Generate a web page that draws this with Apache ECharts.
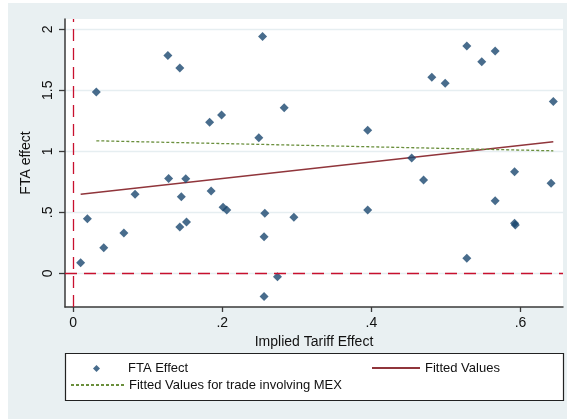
<!DOCTYPE html>
<html>
<head>
<meta charset="utf-8">
<script src="https://cdn.jsdelivr.net/npm/echarts@6/dist/echarts.min.js"></script>
<style>
  html, body { margin: 0; padding: 0; background: #fff; }
  #chart { width: 567px; height: 419px; }
</style>
</head>
<body>
<div id="chart"></div>
<script>
// scatter: implied tariff effect vs FTA effect
var tariffX = [0.010, 0.019, 0.031, 0.041, 0.068, 0.083, 0.127, 0.128, 0.143, 0.145,
  0.143, 0.152, 0.151, 0.183, 0.185, 0.199, 0.201, 0.206, 0.249, 0.254,
  0.257, 0.256, 0.256, 0.274, 0.283, 0.296, 0.395, 0.395, 0.454, 0.470,
  0.481, 0.499, 0.528, 0.528, 0.548, 0.566, 0.566, 0.592, 0.592, 0.593,
  0.641, 0.644];
var ftaY = [0.087, 0.448, 1.486, 0.210, 0.330, 0.648, 1.784, 0.778, 1.683, 0.628,
  0.380, 0.420, 0.775, 1.238, 0.675, 1.297, 0.541, 0.519, 1.111, 1.940,
  0.492, 0.300, -0.190, -0.028, 1.357, 0.459, 1.172, 0.519, 0.945, 0.765,
  1.606, 1.557, 1.863, 0.123, 1.734, 1.822, 0.595, 0.833, 0.410, 0.395,
  0.738, 1.407];
// fitted lines
var fitX = [0.010, 0.644];
var fitY = [0.648, 1.078];
var mexX = [0.031, 0.644];
var mexY = [1.086, 1.004];
var xTicks = [0, 0.2, 0.4, 0.6];
var yTicks = [0, 0.5, 1, 1.5, 2];

var font = 'Liberation Sans, Arial, sans-serif';
var txt = '#111';

function pairs(xs, ys) {
  var out = [];
  for (var i = 0; i < xs.length; ++i) out.push([xs[i], ys[i]]);
  return out;
}
function stripZero(v) {
  return String(v).replace(/^0\./, '.');
}

var myChart = echarts.init(document.getElementById('chart'));
var option = {
  animation: false,
  backgroundColor: '#e9f0f2',
  graphic: [
    { type: 'rect', shape: { x: 0, y: 0, width: 8, height: 419 }, style: { fill: '#fff' }, silent: true },
    { type: 'rect', shape: { x: 0, y: 0, width: 567, height: 3 }, style: { fill: '#fff' }, silent: true },
    { type: 'rect', z: 1, shape: { x: 65.5, y: 353.5, width: 498, height: 47 },
      style: { fill: '#fff', stroke: '#222', lineWidth: 1.2 }, silent: true }
  ],
  grid: {
    left: 65, top: 19, right: 4, bottom: 112,
    show: true, backgroundColor: '#fff', borderWidth: 0
  },
  legend: [
    { left: 93, top: 362, padding: 0, itemWidth: 7, itemHeight: 7, selectedMode: false,
      data: [{ name: 'FTA Effect', icon: 'diamond' }],
      textStyle: { fontSize: 13, color: txt, fontFamily: font, padding: [0, 0, 0, 23] } },
    { left: 371, top: 361.5, padding: 0, itemWidth: 48, itemHeight: 14, selectedMode: false,
      itemStyle: { opacity: 0 },
      data: ['Fitted Values'], textStyle: { fontSize: 13, color: txt, fontFamily: font } },
    { left: 70, top: 378.5, padding: 0, itemWidth: 53, itemHeight: 14, selectedMode: false,
      itemStyle: { opacity: 0 },
      data: ['Fitted Values for trade involving MEX'], textStyle: { fontSize: 13, color: txt, fontFamily: font } }
  ],
  xAxis: {
    type: 'value',
    min: -0.011, max: 0.657,
    name: 'Implied Tariff Effect',
    nameLocation: 'middle',
    nameGap: 22,
    nameTextStyle: { fontSize: 14, color: txt, fontFamily: font },
    axisLine: { onZero: false, lineStyle: { color: '#3a3a3a', width: 1.5 } },
    axisTick: { customValues: xTicks, length: 5, lineStyle: { color: '#3a3a3a', width: 1.3 } },
    axisLabel: { customValues: xTicks, formatter: stripZero, margin: 9,
      fontSize: 14, color: txt, fontFamily: font },
    splitLine: { show: false }
  },
  yAxis: {
    type: 'value',
    min: -0.276, max: 2.084,
    name: 'FTA effect',
    nameLocation: 'middle',
    nameGap: 28,
    nameRotate: 90,
    nameTextStyle: { fontSize: 14, color: txt, fontFamily: font },
    axisLine: { show: true, onZero: false, lineStyle: { color: '#3a3a3a', width: 1.5 } },
    axisTick: { show: true, customValues: yTicks, length: 6, lineStyle: { color: '#3a3a3a', width: 1.3 } },
    axisLabel: { customValues: yTicks, formatter: stripZero, rotate: 90, margin: 10,
      fontSize: 14, color: txt, fontFamily: font },
    splitLine: { show: true, lineStyle: { color: '#e6eef1', width: 1.3 } }
  },
  series: [
    {
      name: 'FTA Effect',
      type: 'scatter',
      symbol: 'diamond',
      symbolSize: 9,
      itemStyle: { color: '#1a476f' },
      data: pairs(tariffX, ftaY),
      z: 4,
      markLine: {
        silent: true,
        symbol: ['none', 'none'],
        label: { show: false },
        lineStyle: { color: '#c8102e', type: [12, 7], width: 1.3 },
        data: [{ xAxis: 0 }, { yAxis: 0 }]
      }
    },
    {
      name: 'Fitted Values',
      type: 'line',
      symbol: 'none',
      itemStyle: { color: '#90353b' },
      lineStyle: { color: '#90353b', width: 1.5 },
      data: pairs(fitX, fitY)
    },
    {
      name: 'Fitted Values for trade involving MEX',
      type: 'line',
      symbol: 'none',
      itemStyle: { color: '#6a8f3c' },
      lineStyle: { color: '#6a8f3c', width: 1.3, type: [3, 2] },
      data: pairs(mexX, mexY)
    }
  ]
};
myChart.setOption(option);
</script>
</body>
</html>
